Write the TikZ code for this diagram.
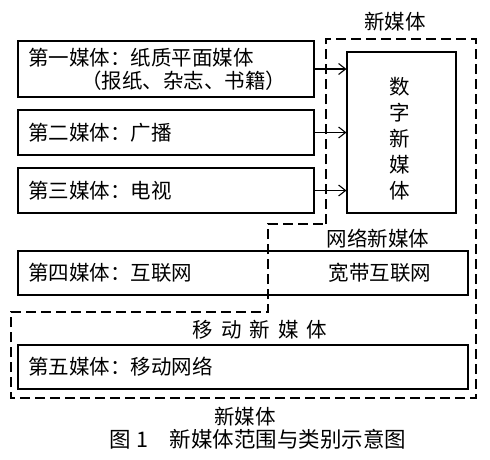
\documentclass[tikz,border=0pt]{standalone}
\usepackage{fontspec}
\newfontfamily\cjk{Noto Sans CJK SC}
\usetikzlibrary{positioning, arrows.meta}

\begin{document}
\begin{tikzpicture}[
		x=1pt, y=-1pt,
		every node/.style={font=\cjk\fontsize{20.5}{23}\selectfont, inner sep=0pt},
		mbox/.style={draw, line width=1.1pt, text width=#1, align=left, inner xsep=10pt, inner ysep=0pt},
		dig_box/.style={draw, line width=1.1pt, minimum width=109pt, minimum height=161pt},
		region/.style={draw, dashed, dash pattern=on 10pt off 5pt, line width=1.1pt},
		arrow/.style={-{Straight Barb[length=7pt, width=11pt]}, line width=1.1pt}
		]
		\useasboundingbox (0,0) rectangle (490,459);
		
		% Old media boxes
		\node[mbox=276pt, minimum height=56pt] (m1) at (166,69) {第一媒体：纸质平面媒体\\\hspace{2.6em}（报纸、杂志、书籍）};
		\node[mbox=276pt, minimum height=45pt] (m2) at (166,132.5) {第二媒体：广播};
		\node[mbox=276pt, minimum height=45pt] (m3) at (166,190.5) {第三媒体：电视};
		\node[mbox=430pt, minimum height=44pt] (m4) at (243,273) {第四媒体：互联网};
		\node[mbox=430pt, minimum height=44pt] (m5) at (243,367) {第五媒体：移动网络};
		
		% Digital new media
		\node[dig_box] (dig) at (401.5,132.5) {};
		\node[align=center, font=\cjk\fontsize{20.5}{26}\selectfont] (dig_txt) at (400,138.5) {数\\字\\新\\媒\\体};
		\draw[arrow] (m1.east) -- (m1.east -| dig.west);
		\draw[arrow] (m2.east) -- (m2.east -| dig.west);
		\draw[arrow] (m3.east) -- (m3.east -| dig.west);
		
		% Network and mobile new media
		\node (kd) at (380,273) {宽带互联网};
		\node (wl) at (378,239) {网络新媒体};
		\node (yd) at (260,330) {移\,\ 动\,\ 新\,\ 媒\,\ 体};
		
		% New media region
		\draw[region] (326,224) -- (326,39) -- (476,39) -- (476,398) -- (11,398) -- (11,312) -- (268,312) -- (268,224) -- cycle;
		\node (xmt_top) at (395,22) {新媒体};
		\node (xmt_bot) at (245,417) {新媒体};
		
		% Caption
		\node[font=\cjk\fontsize{21.5}{24}\selectfont] (cap) at (258,439) {图 1\quad 新媒体范围与类别示意图};
		
	\end{tikzpicture}
\end{document}
